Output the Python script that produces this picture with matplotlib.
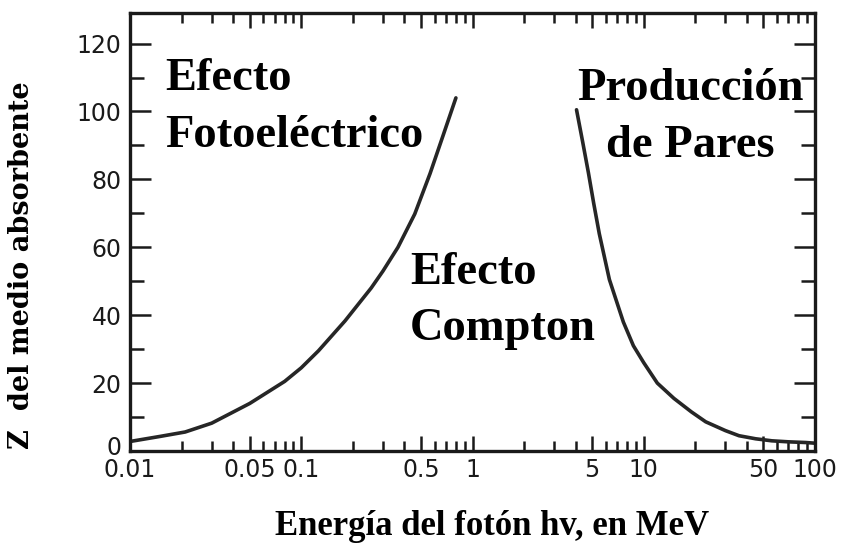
import numpy as np
import matplotlib.pyplot as plt
import matplotlib.transforms as mtransforms
from matplotlib.ticker import FixedLocator, LogLocator, NullFormatter, FixedFormatter

# boundary between photoelectric and Compton dominance (E in MeV, Z)
foto_E = [0.010, 0.015, 0.021, 0.030, 0.050, 0.080, 0.10, 0.126, 0.18, 0.256, 0.30, 0.367, 0.46, 0.565, 0.67, 0.80]
foto_Z = [2.8, 4.3, 5.6, 8.2, 14.0, 20.5, 24.5, 29.5, 38.3, 48.0, 53.0, 60.0, 69.8, 81.7, 92.6, 104.0]

# boundary between Compton and pair production
pares_E = [4.05, 4.4, 4.75, 5.1, 5.5, 6.3, 7.6, 8.7, 10.0, 12.0, 15.0, 19.0, 23.0, 30.0, 36.0, 45.0, 56.0, 70.0, 88.0, 100.0]
pares_Z = [100.5, 91.0, 82.0, 73.0, 64.0, 50.5, 38.0, 31.0, 26.0, 20.0, 15.5, 11.5, 8.6, 6.0, 4.5, 3.6, 3.0, 2.7, 2.5, 2.3]

x_ticks = [0.01, 0.05, 0.1, 0.5, 1, 5, 10, 50, 100]
x_labels = ['0.01', '0.05', '0.1', '0.5', '1', '5', '10', '50', '100']
y_ticks = [0, 20, 40, 60, 80, 100, 120]

W, H = 843, 553
fig = plt.figure(figsize=(W / 100, H / 100), dpi=100)
ax = fig.add_axes([130 / W, 1 - 451 / H, (815 - 130) / W, (451 - 13) / H])

line_kw = dict(color='#262626', lw=2.6, solid_capstyle='round', solid_joinstyle='round')
ax.plot(foto_E, foto_Z, **line_kw)
ax.plot(pares_E, pares_Z, **line_kw)

ax.set_xscale('log')
ax.set_xlim(0.01, 100)
ax.set_ylim(0, 129)

ax.xaxis.set_major_locator(FixedLocator(x_ticks))
ax.xaxis.set_major_formatter(FixedFormatter(x_labels))
ax.xaxis.set_minor_locator(LogLocator(base=10, subs=np.arange(2, 10)))
ax.xaxis.set_minor_formatter(NullFormatter())
ax.yaxis.set_major_locator(FixedLocator(y_ticks))
ax.yaxis.set_minor_locator(FixedLocator(np.arange(10, 130, 20)))

ax.tick_params(which='both', direction='in', top=True, right=True, color='#1a1a1a', width=1.8)
ax.tick_params(axis='y', which='major', length=15, labelsize=17, pad=6)
ax.tick_params(axis='y', which='minor', length=10)
ax.tick_params(axis='x', which='major', length=11, labelsize=17, pad=5)
ax.tick_params(axis='x', which='minor', length=7)
for lab in ax.get_xticklabels() + ax.get_yticklabels():
    lab.set_color('#1a1a1a')

# lift the "0" label a little so it clears "0.01"
zero = ax.get_yticklabels()[0]
zero.set_transform(zero.get_transform() + mtransforms.ScaledTranslation(0, 4 / 72, fig.dpi_scale_trans))

for sp in ax.spines.values():
    sp.set_linewidth(2.4)
    sp.set_color('#1a1a1a')


def put(txt, px, py, size=33.5, ha='left'):
    fig.text(px / W, 1 - py / H, txt, ha=ha, va='baseline', fontsize=size,
             family='Liberation Serif', fontweight='bold', color='black')


put('Efecto', 165, 90)
put('Fotoeléctrico', 165, 147)
put('Efecto', 410, 284)
put('Compton', 410, 340)
put('Producción', 690, 100, ha='center')
put('de Pares', 690, 157, ha='center')

fig.text(492 / W, 1 - 535 / H, 'Energía del fotón hv, en MeV', ha='center', va='baseline',
         fontsize=25, family='Liberation Serif', fontweight='bold')
fig.text(22 / W, 1 - 265 / H, 'Z  del medio absorbente', ha='center', va='center', rotation=90,
         fontsize=19.5, family='DejaVu Serif', fontweight='bold')

fig.savefig('out.png', dpi=100)
